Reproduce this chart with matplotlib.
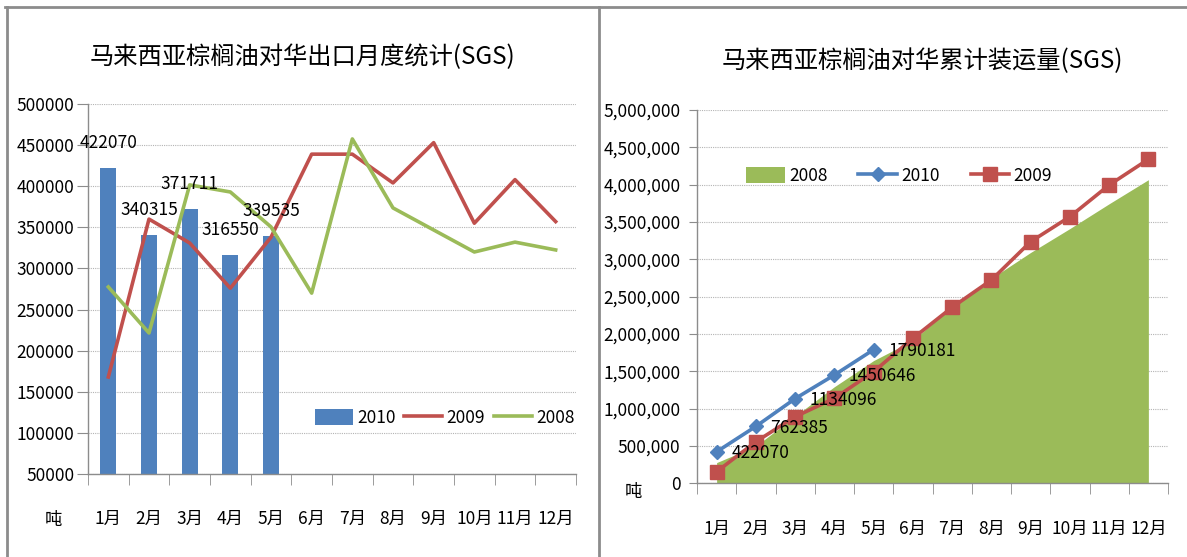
import numpy as np
import matplotlib
matplotlib.use("Agg")
import matplotlib.pyplot as plt
from matplotlib.lines import Line2D
from matplotlib.ticker import FuncFormatter, MultipleLocator

plt.rcParams['font.family'] = ['Noto Sans CJK SC', 'DejaVu Sans']

months = ['1月', '2月', '3月', '4月', '5月', '6月', '7月', '8月', '9月', '10月', '11月', '12月']

# monthly exports (tonnes)
m2010 = [422070, 340315, 371711, 316550, 339535]
m2009 = [168000, 360000, 331000, 276000, 338000, 439000, 439000, 404000, 453000, 355000, 408000, 357000]
m2008 = [277500, 221500, 401600, 393000, 350500, 270000, 457500, 373600, 346800, 320000, 332000, 322500]

# cumulative shipments (tonnes)
c2010 = [422070, 762385, 1134096, 1450646, 1790181]
c2009 = [155000, 557000, 892000, 1138000, 1495000, 1942000, 2357000, 2723000, 3236000, 3571000, 3995000, 4340000]
c2008 = [277500, 499000, 900600, 1293600, 1644100, 1914100, 2371600, 2745200, 3092000, 3412000, 3744000, 4066500]

blue = '#4F81BD'
red = '#C0504D'
green = '#9BBB59'
axcol = '#8C8C8C'

fig = plt.figure(figsize=(11.87, 5.57), dpi=100)
W, H = 1187, 557


def style(ax):
    for s in ['top', 'right']:
        ax.spines[s].set_visible(False)
    for s in ['left', 'bottom']:
        ax.spines[s].set_color(axcol)
        ax.spines[s].set_linewidth(1.0)
    ax.yaxis.grid(True, linestyle=(0, (1, 1)), color='#B4B4B4', linewidth=0.8)
    ax.set_axisbelow(True)
    ax.set_xlim(-0.5, 11.5)
    ax.set_xticks(np.arange(12))
    ax.set_xticklabels(months, fontsize=12.5)
    ax.set_xticks(np.arange(-0.5, 12, 1), minor=True)
    ax.tick_params(axis='x', which='major', length=0, pad=26)
    ax.tick_params(axis='x', which='minor', length=8, color=axcol, direction='out')
    ax.tick_params(axis='y', colors='black', labelsize=12.5)
    ax.tick_params(axis='y', color=axcol)


# ---- left: monthly
ax1 = fig.add_axes([88 / W, (H - 474) / H, 488 / W, 370 / H])
style(ax1)
x = np.arange(12)
b10 = ax1.bar(x[:5], m2010, width=0.4, color=blue, label='2010', zorder=2)
l09, = ax1.plot(x, m2009, color=red, lw=2.6, label='2009', zorder=3)
l08, = ax1.plot(x, m2008, color=green, lw=2.6, label='2008', zorder=3)
ax1.set_ylim(50000, 500000)
ax1.yaxis.set_major_locator(MultipleLocator(50000))
ax1.tick_params(axis='y', length=8, pad=2)
for i, v in enumerate(m2010):
    ax1.annotate(str(v), (x[i], v), xytext=(0, 18), textcoords='offset points',
                 ha='center', va='center', fontsize=12.5)
ax1.legend([b10, l09, l08], ['2010', '2009', '2008'],
           loc='center left', bbox_to_anchor=(0.45, 0.151), ncol=3, frameon=False,
           fontsize=12.5, handlelength=2.2, handleheight=1.0, handletextpad=0.25,
           columnspacing=0.5, borderaxespad=0)
ax1.set_title('马来西亚棕榈油对华出口月度统计(SGS)', fontsize=17.5, x=(302 - 88) / 488, y=1.0, pad=29)

# ---- right: cumulative
ax2 = fig.add_axes([697 / W, (H - 483.3) / H, 471 / W, 373.3 / H])
style(ax2)
ax2.fill_between(x, 0, c2008, color=green, linewidth=0, label='2008', zorder=2)
ax2.plot(x[:5], c2010, color=blue, lw=2.6, marker='D', markersize=7, label='2010', zorder=4)
ax2.plot(x, c2009, color=red, lw=2.6, marker='s', markersize=10, label='2009', zorder=3)
ax2.set_ylim(0, 5000000)
ax2.yaxis.set_major_locator(MultipleLocator(500000))
ax2.yaxis.set_major_formatter(FuncFormatter(lambda v, p: f'{int(v):,}'))
ax2.tick_params(axis='y', length=6, pad=6)
for i, v in enumerate(c2010):
    ax2.annotate(str(v), (x[i], v), xytext=(10.5, -1), textcoords='offset points',
                 ha='left', va='center', fontsize=12.5)
ax2.legend(loc='center left', bbox_to_anchor=(0.09, 0.823), ncol=3, frameon=False,
           fontsize=12.5, handlelength=2.2, handleheight=1.0, handletextpad=0.25,
           columnspacing=1.8, borderaxespad=0)
ax2.set_title('马来西亚棕榈油对华累计装运量(SGS)', fontsize=17.5, x=(922 - 697) / 471, y=1.0, pad=30)

# unit labels
fig.text(53 / W, 1 - 520 / H, '吨', fontsize=12.5, ha='center', va='center')
fig.text(633 / W, 1 - 492 / H, '吨', fontsize=12.5, ha='center', va='center')

# panel borders
fig.add_artist(Line2D([5 / W, 1], [1 - 7 / H, 1 - 7 / H], color='#8C8C8C', lw=2))
fig.add_artist(Line2D([7 / W, 7 / W], [0, 1 - 7 / H], color='#8C8C8C', lw=2))
fig.add_artist(Line2D([599 / W, 599 / W], [0, 1 - 7 / H], color='#8C8C8C', lw=2))

fig.savefig('out.png', dpi=100)
